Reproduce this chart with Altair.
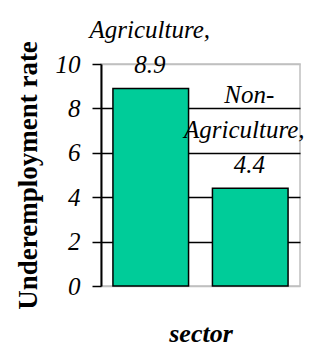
import altair as alt
import pandas as pd

sectors = ["Agriculture", "Non-Agriculture"]
rates = [8.9, 4.4]
label_lines = [["Agriculture,", "8.9"], ["Non-", "Agriculture,", "4.4"]]
y_ticks = [0, 2, 4, 6, 8, 10]

df = pd.DataFrame({"sector": sectors, "rate": rates, "label": label_lines})

FONT = "Liberation Serif"

base = alt.Chart(df).encode(
    x=alt.X("sector:N", sort=sectors,
            scale=alt.Scale(paddingInner=0.24, paddingOuter=0.12),
            axis=alt.Axis(labels=False, ticks=False, domain=False, title="sector",
                          titleFont=FONT, titleFontSize=26, titleFontWeight="bold",
                          titleFontStyle="italic", titlePadding=34, titleColor="black")),
    y=alt.Y("rate:Q", scale=alt.Scale(domain=[0, 10], nice=False),
            axis=alt.Axis(values=y_ticks, title="Underemployment rate",
                          titleFont=FONT, titleFontSize=27, titleFontWeight="bold",
                          titleColor="black", titlePadding=13,
                          labelFont=FONT, labelFontSize=25, labelFontStyle="italic",
                          labelColor="black", labelPadding=12,
                          tickSize=9, tickColor="black", tickWidth=1.5,
                          domainColor="black", domainWidth=2,
                          gridColor=alt.condition("datum.value > 0 && datum.value < 10",
                                                  alt.value("black"), alt.value("#c0c0c0")),
                          gridWidth=1.5)),
)

bars = base.mark_bar(color="#00CC99", stroke="black", strokeWidth=1.5)

layers = [bars]
for k in range(3):
    for s in sectors:
        shift = -1
        if s == "Non-Agriculture" and k == 1:
            shift = -6
        t = base.transform_filter(
            alt.datum.sector == s
        ).transform_calculate(
            line=f"length(datum.label) > {k} ? datum.label[length(datum.label) - 1 - {k}] : ''"
        ).mark_text(font=FONT, fontSize=25, fontStyle="italic", color="black",
                    baseline="alphabetic", dx=shift, dy=-15 - 35 * k).encode(text="line:N")
        layers.append(t)

chart = alt.layer(*layers).properties(
    width=199, height=222,
    autosize=alt.AutoSizeParams(type="none"),
    padding={"left": 93, "top": 56, "right": 4, "bottom": 61},
).configure_view(stroke="#c0c0c0", strokeWidth=1.5)

chart.save("out.html", embed_options={"renderer": "svg", "actions": False})
